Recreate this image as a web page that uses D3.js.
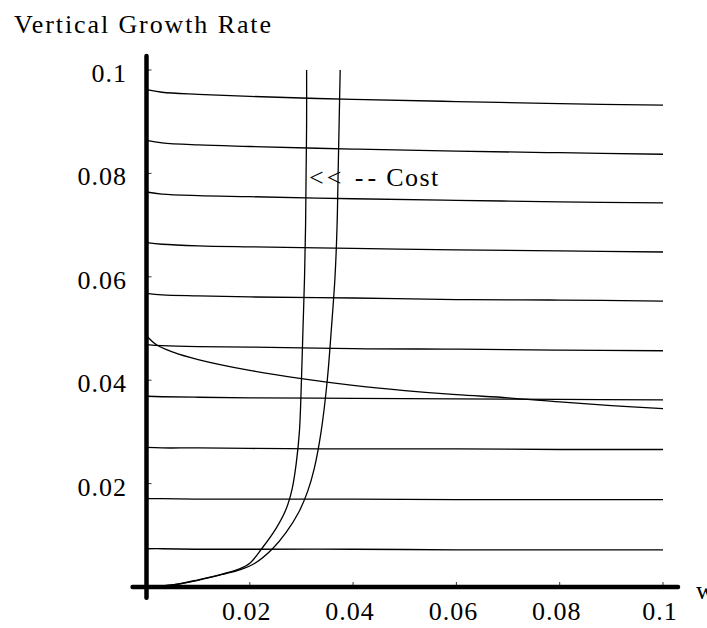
<!DOCTYPE html>
<html><head><meta charset="utf-8">
<script src="https://cdn.jsdelivr.net/npm/d3@7"></script>
<style>
html,body{margin:0;padding:0;background:#fff;}
svg text{font-family:"Liberation Serif","Times New Roman","DejaVu Serif",serif;fill:#000;}
</style></head>
<body><svg id="c" width="707" height="628"></svg>
<script>
// ---- data ----
const wSamples = [0, 0.003, 0.01, 0.02, 0.04, 0.06, 0.08, 0.1];
const growthLine1  = [0.0962, 0.0957, 0.0953, 0.0949, 0.0943, 0.0939, 0.0935, 0.0932];
const growthLine2  = [0.0864, 0.0859, 0.0855, 0.0852, 0.0847, 0.0843, 0.0840, 0.0837];
const growthLine3  = [0.0764, 0.0760, 0.0757, 0.0755, 0.0751, 0.0748, 0.0745, 0.0743];
const growthLine4  = [0.0666, 0.0663, 0.0660, 0.0658, 0.0655, 0.0652, 0.0650, 0.0648];
const growthLine5  = [0.0568, 0.0565, 0.0563, 0.0561, 0.0559, 0.0556, 0.0555, 0.0553];
const growthLine6  = [0.0469, 0.0467, 0.0465, 0.0464, 0.0461, 0.0460, 0.0458, 0.0457];
const growthLine7  = [0.0369, 0.0368, 0.0367, 0.0366, 0.0365, 0.0364, 0.0363, 0.0362];
const growthLine8  = [0.0270, 0.0269, 0.0269, 0.0268, 0.0267, 0.0267, 0.0266, 0.0266];
const growthLine9  = [0.0171, 0.0171, 0.0170, 0.0170, 0.0170, 0.0169, 0.0169, 0.0169];
const growthLine10 = [0.0074, 0.0074, 0.0073, 0.0073, 0.0073, 0.0072, 0.0072, 0.0072];

const declineW = [0, 0.002, 0.005, 0.01, 0.02, 0.03, 0.04, 0.05, 0.06, 0.07, 0.08, 0.09, 0.1];
const declineV = [0.0486, 0.0468, 0.0455, 0.0440, 0.0419, 0.0403, 0.0390, 0.0380, 0.0372, 0.0366, 0.0358, 0.0351, 0.0345];

const costAW = [0, 0.005, 0.01, 0.015, 0.018, 0.020, 0.0223, 0.025, 0.0270, 0.0282, 0.0290, 0.0296, 0.0300, 0.0303, 0.0306, 0.0308, 0.0309, 0.0310, 0.0310];
const costAV = [0, 0.0004, 0.0014, 0.0026, 0.0035, 0.0046, 0.0074, 0.0112, 0.0150, 0.0190, 0.0240, 0.030, 0.040, 0.050, 0.060, 0.070, 0.080, 0.090, 0.100];
const costBW = [0, 0.005, 0.01, 0.015, 0.018, 0.021, 0.0244, 0.0270, 0.0295, 0.0312, 0.0325, 0.0338, 0.0350, 0.0358, 0.0365, 0.0369, 0.0371, 0.0373, 0.0375];
const costBV = [0, 0.0004, 0.0013, 0.0025, 0.0033, 0.0046, 0.0074, 0.0105, 0.0145, 0.0185, 0.0230, 0.030, 0.040, 0.050, 0.060, 0.070, 0.080, 0.090, 0.100];

const xTicks = [0.02, 0.04, 0.06, 0.08, 0.1];
const xTickLabels = ["0.02", "0.04", "0.06", "0.08", "0.1"];
const yTicks = [0.02, 0.04, 0.06, 0.08, 0.1];
const yTickLabels = ["0.02", "0.04", "0.06", "0.08", "0.1"];

// ---- chart ----
const svg = d3.select("#c");
const x = d3.scaleLinear().domain([0, 0.1]).range([146.5, 663]);
const y = d3.scaleLinear().domain([0, 0.1]).range([587, 70]);

const line = d3.line().x(d => x(d[0])).y(d => y(d[1])).curve(d3.curveCatmullRom.alpha(0.5));
const g = svg.append("g").attr("fill", "none").attr("stroke", "#000").attr("stroke-width", 1.3);

const growthLines = [growthLine1, growthLine2, growthLine3, growthLine4, growthLine5,
                     growthLine6, growthLine7, growthLine8, growthLine9, growthLine10];
growthLines.forEach(vals => {
  g.append("path").attr("d", line(wSamples.map((w, i) => [w, vals[i]])));
});
g.append("path").attr("d", line(declineW.map((w, i) => [w, declineV[i]])));
g.append("path").attr("d", line(costAW.map((w, i) => [w, costAV[i]])));
g.append("path").attr("d", line(costBW.map((w, i) => [w, costBV[i]])));

// axes
const ax = svg.append("g").attr("stroke", "#000");
ax.append("line").attr("x1", x(-0.0027)).attr("x2", x(0.1029)).attr("y1", y(0)).attr("y2", y(0))
  .attr("stroke-width", 4.5).attr("stroke-linecap", "round");
ax.append("line").attr("x1", x(0)).attr("x2", x(0)).attr("y1", y(-0.0021)).attr("y2", y(0.1027))
  .attr("stroke-width", 4.5).attr("stroke-linecap", "round");
xTicks.forEach(t => ax.append("line").attr("x1", x(t)).attr("x2", x(t)).attr("y1", y(0)).attr("y2", y(0) - 5).attr("stroke-width", 0.8));
yTicks.forEach(t => ax.append("line").attr("x1", x(0)).attr("x2", x(0) + 5).attr("y1", y(t)).attr("y2", y(t)).attr("stroke-width", 0.8));

const fs = 26;
xTicks.forEach((t, i) => {
  svg.append("text").attr("x", x(t) - 3).attr("y", 620).attr("text-anchor", "middle")
    .attr("font-size", fs).attr("letter-spacing", 1).text(xTickLabels[i]);
});
yTicks.forEach((t, i) => {
  svg.append("text").attr("x", 127).attr("y", y(t) + 12).attr("text-anchor", "end")
    .attr("font-size", fs).attr("letter-spacing", 1).text(yTickLabels[i]);
});

svg.append("text").attr("x", 14).attr("y", 33).attr("font-size", 26)
  .attr("textLength", 257).attr("lengthAdjust", "spacing").text("Vertical Growth Rate");

const cost = svg.append("text").attr("x", 309).attr("y", 186).attr("font-size", fs);
cost.append("tspan").attr("letter-spacing", 3).text("<<");
cost.append("tspan").attr("letter-spacing", 4).text(" --");
cost.append("tspan").attr("dx", 6).attr("letter-spacing", 1.5).text("Cost");

svg.append("text").attr("x", 696).attr("y", 599).attr("font-size", fs).text("w");
</script></body></html>
